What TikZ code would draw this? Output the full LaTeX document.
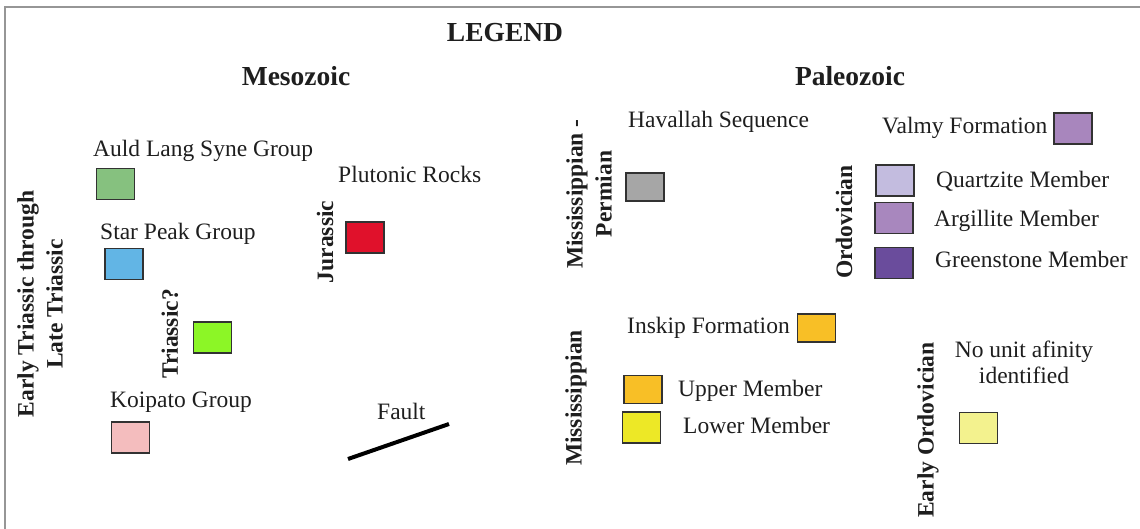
\documentclass[tikz,border=0pt]{standalone}
\usepackage{fontspec}
\setmainfont{Liberation Serif}
\definecolor{ink}{RGB}{30,30,30}
\definecolor{frame}{RGB}{150,150,150}
\definecolor{edge}{RGB}{50,50,50}
\definecolor{cALS}{RGB}{134,193,127}
\definecolor{cSP}{RGB}{98,181,229}
\definecolor{cPlu}{RGB}{224,17,43}
\definecolor{cTri}{RGB}{140,246,38}
\definecolor{cKoi}{RGB}{244,189,190}
\definecolor{cHav}{RGB}{166,166,166}
\definecolor{cVal}{RGB}{168,134,189}
\definecolor{cQtz}{RGB}{195,188,223}
\definecolor{cArg}{RGB}{168,135,190}
\definecolor{cGrn}{RGB}{106,76,156}
\definecolor{cIns}{RGB}{248,191,38}
\definecolor{cLow}{RGB}{237,232,38}
\definecolor{cNo}{RGB}{243,242,142}
\tikzset{
  label/.style={anchor=base west, inner sep=0pt, text=ink, font=\fontsize{23.5}{26}\selectfont},
  heading/.style={anchor=base, inner sep=0pt, text=ink, font=\fontsize{27.5}{30}\selectfont\bfseries},
  period/.style={rotate=90, inner sep=0pt, align=center, text=ink, font=\fontsize{23.5}{29}\selectfont\bfseries},
  swatch/.style={draw=edge, line width=1.5pt, inner sep=0pt, minimum width=38pt, minimum height=31pt},
  flat/.style={swatch, minimum height=28pt},
  faultline/.style={line width=4pt, black},
}
\begin{document}
\begin{tikzpicture}[x=1pt, y=-1pt]
\useasboundingbox (0,0) rectangle (1140,529);
% frame
\draw[frame, line width=2pt] (5,529) -- (5,7) -- (1140,7);

% headings
\node[heading] (legend) at (505,42) {LEGEND};
\node[heading] (meso) at (296,86) {Mesozoic};
\node[heading] (paleo) at (850,86) {Paleozoic};

% Mesozoic units
\node[period] (etlt) at (40,304) {Early Triassic through\\Late Triassic};
\node[label] (alsT) at (93,157) {Auld Lang Syne Group};
\node[swatch, fill=cALS] (als) at (115.5,184) {};
\node[label] (spT) at (100,240) {Star Peak Group};
\node[swatch, fill=cSP] (sp) at (124,264) {};
\node[period] (triq) at (170,334) {Triassic?};
\node[swatch, fill=cTri] (tri) at (212.5,337.5) {};
\node[label] (koiT) at (110,407) {Koipato Group};
\node[swatch, fill=cKoi] (koi) at (130.5,437.5) {};
\node[period] (jur) at (325,242) {Jurassic};
\node[label] (pluT) at (338,183) {Plutonic Rocks};
\node[swatch, fill=cPlu] (plu) at (365,237.5) {};
\node[label] (faultT) at (377,419) {Fault};
\coordinate (fa) at (348,459);
\coordinate (fb) at (449,424);
\draw[faultline] (fa) -- (fb);

% Paleozoic units
\node[period] (mp) at (589,194) {Mississippian -\\Permian};
\node[label] (havT) at (628,128) {Havallah Sequence};
\node[flat, fill=cHav] (hav) at (645,187) {};

\node[period] (ord) at (844,222) {Ordovician};
\node[label] (valT) at (882,134) {Valmy Formation};
\node[swatch, fill=cVal] (val) at (1073,128.5) {};
\node[swatch, fill=cQtz] (qtz) at (895,180.5) {};
\node[label] (qtzT) at (936,188) {Quartzite Member};
\node[swatch, fill=cArg] (arg) at (894,218) {};
\node[label] (argT) at (934,227) {Argillite Member};
\node[swatch, fill=cGrn] (grn) at (894,263) {};
\node[label] (grnT) at (935,268) {Greenstone Member};

\node[period] (mis) at (576,398) {Mississippian};
\node[label] (insT) at (627,333) {Inskip Formation};
\node[flat, fill=cIns] (ins) at (816.5,328) {};
\node[flat, fill=cIns] (upp) at (643,389.5) {};
\node[label] (uppT) at (678,396) {Upper Member};
\node[swatch, fill=cLow] (low) at (641.5,427.5) {};
\node[label] (lowT) at (683,433) {Lower Member};

\node[period] (eord) at (928,430) {Early Ordovician};
\node[anchor=base, inner sep=0pt, align=center, text=ink, font=\fontsize{23.5}{26}\selectfont] (noT) at (1024,383) {No unit afinity\\identified};
\node[swatch, fill=cNo] (nou) at (978.5,428) {};
\end{tikzpicture}
\end{document}
